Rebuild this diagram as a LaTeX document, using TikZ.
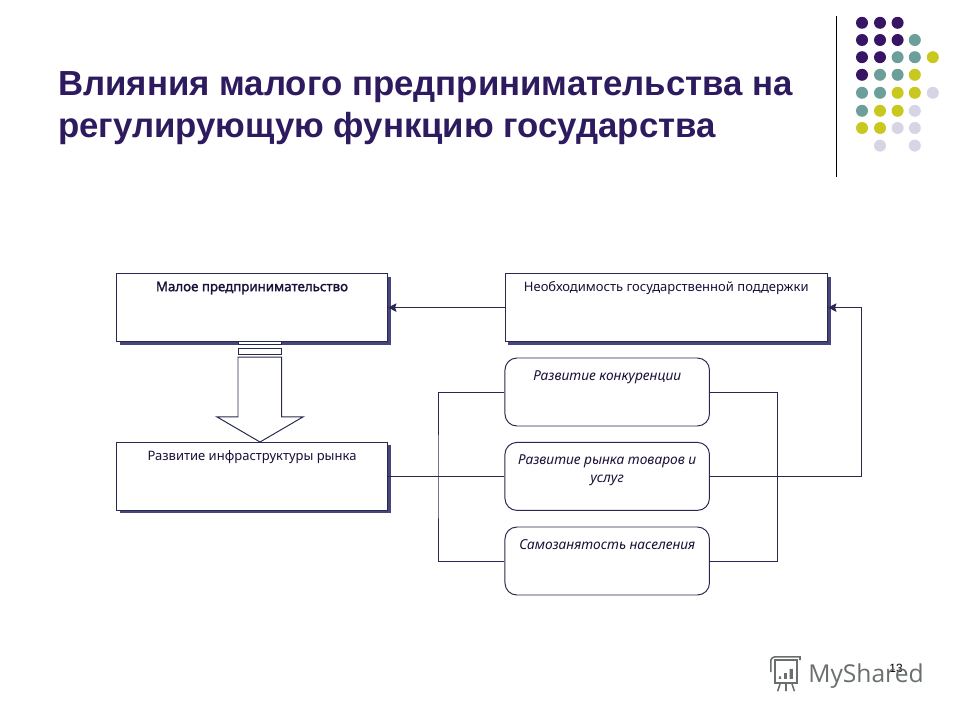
\documentclass[tikz,border=0pt]{standalone}
\usepackage{fontspec}
\setmainfont{Liberation Sans}
\newfontfamily\boxfont{Noto Sans}
\newfontfamily\boxboldfont[FakeBold=1.6]{Noto Sans}
\newfontfamily\markfont{Open Sans}
\usepackage{xcolor}
\definecolor{deeppurple}{RGB}{46,26,94}
\definecolor{linenavy}{RGB}{40,40,80}
\definecolor{shadownavy}{RGB}{70,70,125}
\definecolor{dotpurple}{RGB}{56,20,100}
\definecolor{dotteal}{RGB}{108,159,154}
\definecolor{dotyellow}{RGB}{200,200,30}
\definecolor{dotlilac}{RGB}{213,213,230}
\definecolor{markgray}{RGB}{105,110,110}
\usetikzlibrary{
  arrows.meta,
  shadows
}

\begin{document}
\begin{tikzpicture}[
  box/.style={rectangle, draw=linenavy, fill=white, line width=0.7pt, minimum width=6.775cm, minimum height=1.7cm, font=\boxfont\fontsize{9.25}{12.2}\selectfont, text=deeppurple!60!black, align=center, inner sep=0pt, text height=4.4mm, text depth=12.6mm, general shadow={shadow xshift=0.075cm, shadow yshift=-0.075cm, fill=shadownavy}},
  rbox/.style={rectangle, draw=linenavy, fill=white, line width=0.7pt, rounded corners=0.3cm, minimum width=5.1125cm, minimum height=1.7cm, font=\boxfont\itshape\fontsize{9.75}{12.2}\selectfont, text=deeppurple!60!black, align=center, inner sep=0pt, text height=5.5mm, text depth=11.5mm},
  arr/.style={-{Stealth[length=6pt,width=6pt,inset=1pt]}, line width=0.7pt, linenavy},
  conn/.style={line width=0.7pt, linenavy},
  band/.style={draw=linenavy, fill=white, line width=0.7pt},
  dot/.style={radius=0.15}
]
  \useasboundingbox (0,0) rectangle (24,18);

  % title
  \node[anchor=base west, inner sep=0pt, font=\bfseries\fontsize{24.75}{29.9}\selectfont, text=deeppurple, align=left] (title) at (1.45,14.55) {Влияния малого предпринимательства на\\регулирующую функцию государства};

  % corner decoration
  \coordinate (ruletop) at (20.9,17.6);
  \coordinate (rulebot) at (20.9,13.58);
  \draw[black, line width=0.7pt] (ruletop) -- (rulebot);
  \foreach \x/\y in {21.55/17.43, 22/17.43, 22.44/17.43, 21.55/17, 22/17, 22.44/17, 21.55/16.57, 22/16.57, 21.55/16.13}
    \fill[dotpurple, dot] (\x,\y) circle;
  \foreach \x/\y in {22.87/17, 22.44/16.57, 22.87/16.57, 22/16.13, 22.44/16.13, 21.55/15.68, 22/15.68, 21.55/15.23}
    \fill[dotteal, dot] (\x,\y) circle;
  \foreach \x/\y in {23.32/16.57, 22.87/16.13, 22.44/15.68, 22.87/15.68, 22/15.23, 22.44/15.23, 21.55/14.8, 22/14.8}
    \fill[dotyellow, dot] (\x,\y) circle;
  \foreach \x/\y in {23.32/15.68, 22.87/15.23, 22.44/14.8, 22.87/14.8, 22/14.36, 22.87/14.36}
    \fill[dotlilac, dot] (\x,\y) circle;

  % boxes
  \node[box] (small) at (6.3,10.31) {\boxboldfont\fontsize{9.45}{12.2}\selectfont Малое предпринимательство};
  \node[box, minimum width=8.0625cm] (support) at (16.656,10.31) {Необходимость государственной поддержки};
  \node[box] (infra) at (6.3,6.09) {Развитие инфраструктуры рынка};
  \node[rbox] (compet) at (15.18,8.2) {Развитие конкуренции};
  \node[rbox, text height=9.9mm, text depth=7.1mm] (market) at (15.18,6.09) {Развитие рынка товаров и\\услуг};
  \node[rbox] (selfjob) at (15.18,3.975) {Самозанятость населения};

  % hollow arrow
  \draw[band] (5.95,9.46) -- (5.95,9.4) -- (7.04,9.4) -- (7.04,9.46);
  \draw[band] (5.95,9.3) rectangle (7.04,9.14);
  \draw[band] (5.95,9.07) -- (7.04,9.07) -- (7.04,7.58) -- (7.58,7.58) -- (6.5,6.95) -- (5.42,7.58) -- (5.95,7.58) -- cycle;

  % connectors
  \coordinate (joinleft) at (10.95,6.09);
  \coordinate (joinright) at (19.44,6.09);
  \coordinate (turn) at (21.54,6.09);
  \draw[arr] (support) -- (small);
  \draw[conn] (infra) -- (market);
  \draw[conn] (compet.west) -| (joinleft) |- (selfjob.west);
  \draw[conn] (compet.east) -| (joinright) |- (selfjob.east);
  \draw[arr] (market.east) -- (turn) |- (support.east);

  % page number and watermark
  \node[anchor=base, inner sep=0pt, font=\fontsize{8.5}{10}\selectfont] (pagenum) at (22.4,1.2) {13};
  \node[anchor=base west, inner sep=0pt, font=\markfont\fontsize{17.5}{22}\selectfont, text=markgray] (mark) at (20.2,0.95) {MyShared};
  \begin{scope}[markgray, line width=1.1pt]
    \draw (19.375,1.5) rectangle (19.925,0.925);
    \draw (19.27,1.2) -- (19.27,1.5) to[bend left=30] (19.37,1.58) -- (20,1.58) -- (20,1.5);
    \draw (19.5,0.9) -- (19.44,0.72) (19.65,0.9) -- (19.65,0.72) (19.8,0.9) -- (19.86,0.72);
    \fill (19.47,1.03) rectangle (19.53,1.09) (19.6,1.03) rectangle (19.67,1.17) (19.74,1.03) rectangle (19.82,1.28);
  \end{scope}
\end{tikzpicture}
\end{document}
